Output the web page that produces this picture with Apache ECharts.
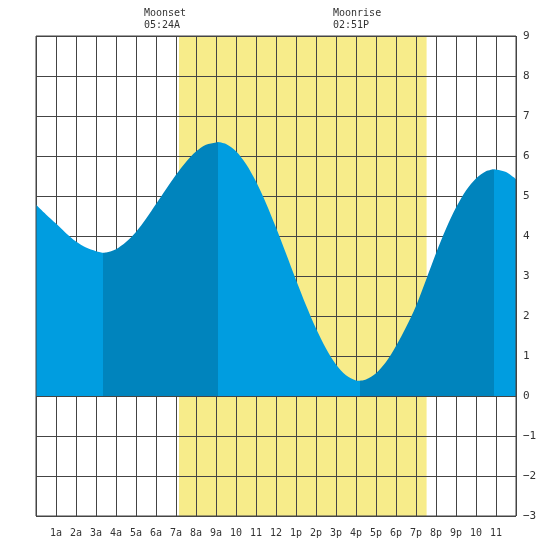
<!DOCTYPE html>
<html>
<head>
<meta charset="utf-8">
<script src="https://cdn.jsdelivr.net/npm/echarts@6/dist/echarts.min.js"></script>
<style>
  html, body { margin: 0; padding: 0; background: #fff; }
  #main { width: 550px; height: 550px; }
</style>
</head>
<body>
<div id="main"></div>
<script>
// 潮汐数据（小时, 英尺）
var tideHours = [0, 0.5, 1, 1.5, 2, 2.5, 3, 3.35,
  3.5, 4, 4.5, 5, 5.5, 6, 6.5, 7, 7.5, 8, 8.5, 9, 9.1,
  9.5, 10, 10.5, 11, 11.5, 12, 12.5, 13, 13.5, 14, 14.5, 15, 15.5, 16, 16.2,
  16.5, 17, 17.5, 18, 18.5, 19, 19.5, 20, 20.5, 21, 21.5, 22, 22.5, 22.9,
  23.5, 24];
var tideFeet = [4.78, 4.54, 4.31, 4.07, 3.86, 3.71, 3.62, 3.58,
  3.585, 3.67, 3.85, 4.10, 4.43, 4.80, 5.17, 5.53, 5.85, 6.11, 6.28, 6.34, 6.35,
  6.30, 6.12, 5.80, 5.36, 4.82, 4.21, 3.56, 2.90, 2.27, 1.69, 1.19, 0.79, 0.52, 0.39, 0.38,
  0.41, 0.57, 0.85, 1.25, 1.72, 2.25, 2.90, 3.57, 4.18, 4.71, 5.14, 5.44, 5.62, 5.67,
  5.60, 5.42];
var xLabels = ['', '1a', '2a', '3a', '4a', '5a', '6a', '7a', '8a', '9a', '10', '11', '12',
  '1p', '2p', '3p', '4p', '5p', '6p', '7p', '8p', '9p', '10', '11', ''];
var daylight = [7.15, 19.53];
var moonEvents = [
  {name: 'Moonset', time: '05:24A', hour: 5.4},
  {name: 'Moonrise', time: '02:51P', hour: 14.85}
];

var lightBlue = '#009de0';
var darkBlue = '#0084bd';
var gridColor = '#444';
var monoFont = 'DejaVu Sans Mono';

// 按极值点分段，涨潮为深色
var extremes = [0];
for (var i = 1; i < tideFeet.length - 1; i++) {
    var a = tideFeet[i] - tideFeet[i - 1], b = tideFeet[i + 1] - tideFeet[i];
    if (a * b < 0) extremes.push(i);
}
extremes.push(tideFeet.length - 1);

var tideSeries = [];
for (var k = 0; k < extremes.length - 1; k++) {
    var s = extremes[k], e = extremes[k + 1];
    var pts = [];
    for (var j = s; j <= e; j++) pts.push([tideHours[j], tideFeet[j]]);
    var rising = tideFeet[e] > tideFeet[s];
    tideSeries.push({
        type: 'line',
        data: pts,
        smooth: 0.3,
        symbol: 'none',
        silent: true,
        z: 3,
        lineStyle: {width: 0},
        areaStyle: {color: rising ? darkBlue : lightBlue, opacity: 1}
    });
}

var myChart = echarts.init(document.getElementById('main'));
var option = {
    animation: false,
    backgroundColor: '#fff',
    grid: {
        left: 36, right: 34, top: 36, bottom: 34,
        show: true,
        borderColor: gridColor,
        borderWidth: 1,
        z: 5
    },
    xAxis: {
        type: 'value',
        min: 0, max: 24, interval: 1,
        z: 2,
        axisLine: {show: false},
        axisTick: {show: false},
        splitLine: {show: true, lineStyle: {color: gridColor, width: 1}},
        axisLabel: {
            color: '#333', fontFamily: monoFont, fontSize: 10, margin: 12,
            formatter: function (v) { return xLabels[v] || ''; }
        }
    },
    yAxis: {
        type: 'value',
        position: 'right',
        min: -3, max: 9, interval: 1,
        z: 2,
        axisLine: {show: false},
        axisTick: {show: false},
        splitLine: {show: true, lineStyle: {color: gridColor, width: 1}},
        axisLabel: {
            color: '#333', fontFamily: monoFont, fontSize: 11, margin: 7,
            formatter: function (v) { return String(v).replace('-', '\u2212'); }
        }
    },
    series: [{
        type: 'line',
        data: [],
        z: 1,
        silent: true,
        markArea: {
            silent: true,
            itemStyle: {color: '#f7ec8a', opacity: 1},
            data: [[{xAxis: daylight[0]}, {xAxis: daylight[1]}]]
        }
    }].concat(tideSeries)
};
myChart.setOption(option);

// 月出月落标注
var texts = [];
moonEvents.forEach(function (m) {
    var px = myChart.convertToPixel({xAxisIndex: 0}, m.hour);
    texts.push({
        type: 'text', left: px, top: 7,
        style: {text: m.name + '\n' + m.time, fill: '#333', font: '10px ' + monoFont, lineHeight: 12}
    });
});
myChart.setOption({graphic: texts});
</script>
</body>
</html>
